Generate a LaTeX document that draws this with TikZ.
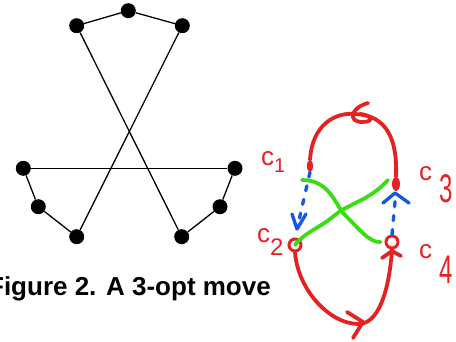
\documentclass[tikz,border=0pt]{standalone}
\usepackage{fontspec}
\setmainfont{Liberation Sans}[BoldFont=Liberation Sans Bold]
\newfontfamily\captionfont{Liberation Sans Bold}
\usetikzlibrary{arrows.meta, shapes.geometric}
\definecolor{tourred}{HTML}{E52222}
\definecolor{swapgreen}{HTML}{3CDC14}
\definecolor{moveblue}{HTML}{1659E0}

\begin{document}
\begin{tikzpicture}[
    x=1pt, y=-1pt,
    vertex/.style={circle, fill=black, inner sep=0pt, minimum size=15pt},
    edge/.style={line width=1.3pt},
    cityblob/.style={ellipse, fill=tourred, inner sep=0pt},
    cityring/.style={circle, draw=tourred, line width=3pt, inner sep=0pt, minimum size=12pt},
    tour/.style={draw=tourred, line width=3.8pt, line cap=round, line join=round},
    swap/.style={draw=swapgreen, line width=3.8pt, line cap=round},
    jump/.style={draw=moveblue, line width=3.4pt, line cap=round, dash pattern=on 5pt off 9pt},
    jumptip/.style={draw=moveblue, line width=3.4pt, line cap=round, line join=round},
    clabel/.style={text=tourred, inner sep=0pt, anchor=base west, font=\fontsize{26}{26}\selectfont},
  ]
  \useasboundingbox (0,0) rectangle (456,341);

  % --- Left: crossed tour ---
  \node[vertex] (t1) at (76.7,25.7) {};
  \node[vertex] (t2) at (128.3,10.7) {};
  \node[vertex] (t3) at (182.3,25.7) {};
  \node[vertex] (l1) at (23.3,168.3) {};
  \node[vertex] (l2) at (38.3,206.7) {};
  \node[vertex] (l3) at (76.7,236.7) {};
  \node[vertex] (r1) at (235,168.3) {};
  \node[vertex] (r2) at (220,206.7) {};
  \node[vertex] (r3) at (181.7,236.7) {};

  \draw[edge] (t1) -- (t2) -- (t3);
  \draw[edge] (l1) -- (l2) -- (l3);
  \draw[edge] (r1) -- (r2) -- (r3);
  \draw[edge] (t1) -- (r3);
  \draw[edge] (t3) -- (l3);
  \draw[edge] (l1) -- (r1);

  % --- Caption ---
  \node[font=\captionfont\fontsize{26}{26}\selectfont, anchor=base east, inner sep=0pt]
    (caption) at (271,295) {Figure 2. A 3-opt move};

  % --- Right: sketch of the move ---
  \node[cityblob, minimum width=6pt, minimum height=12pt] (c1) at (310,166) {};
  \node[cityblob, minimum width=8pt, minimum height=14pt] (c3) at (396,184) {};
  \node[cityring] (c2) at (295,245) {};
  \node[cityring] (c4) at (392,242) {};

  \node[clabel] (c1lab) at (261,165) {c\raisebox{-7pt}{\fontsize{20}{20}\selectfont 1}};
  \node[clabel] (c2lab) at (257,242) {c\raisebox{-13pt}{\fontsize{24}{24}\selectfont 2}};
  \node[clabel] (c3lab) at (419,180) {c\hspace{7pt}\raisebox{-22pt}{\scalebox{0.6}[1]{\fontsize{40}{40}\selectfont 3}}};
  \node[clabel] (c4lab) at (419,258) {c\hspace{7pt}\raisebox{-25pt}{\scalebox{0.6}[1]{\fontsize{40}{40}\selectfont 4}}};

  % tour
  \draw[tour] (c1.north) .. controls (312,125) and (335,112) .. (355,114)
    .. controls (380,115) and (398,130) .. (c3.north);
  \draw[tour] (368,103) .. controls (350,108) and (348,122) .. (362,122)
    .. controls (375,122) and (372,115) .. (360,114);
  \draw[tour] (c2.south) .. controls (298,290) and (330,325) .. (360,324)
    .. controls (382,322) and (390,280) .. (c4.south);
  \draw[tour] (347,312) -- (363,322) -- (353,338);
  \draw[tour] (382,258) -- (392,251) -- (401,256);

  % new edges
  \coordinate (g1) at (302,180);
  \coordinate (g3) at (388,180);
  \draw[swap] (g1) .. controls (330,180) and (335,205) .. (345,215)
    .. controls (360,230) and (370,243) .. ([xshift=-4pt]c4.west);
  \draw[swap] (g3) .. controls (370,200) and (350,203) .. (335,215)
    .. controls (320,228) and (305,232) .. (c2.center);

  % moves
  \draw[jump, shorten >=12pt] (c1.south) -- (c2.north);
  \draw[jumptip] (292,214) -- (297,229) -- (306,214);
  \draw[jump, shorten >=8pt] (c4.north) -- (c3.south);
  \draw[jumptip] (383,203) -- (395,193) -- (409,203);
\end{tikzpicture}
\end{document}
